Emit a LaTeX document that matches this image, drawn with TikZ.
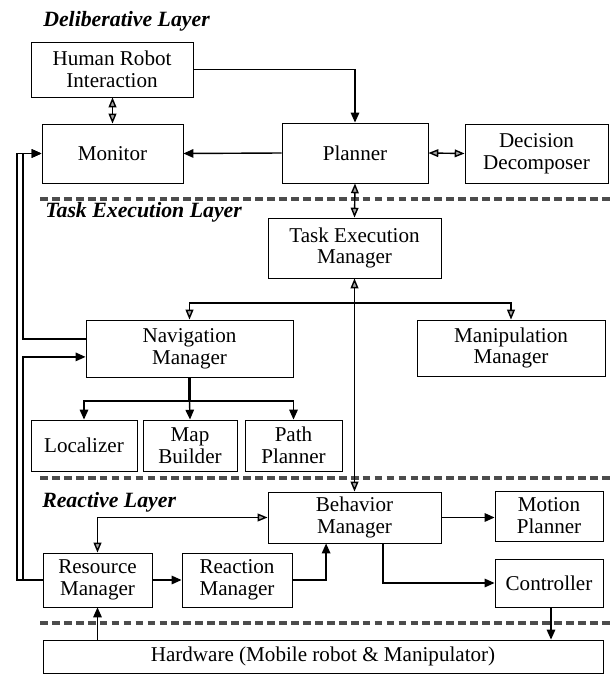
\documentclass[tikz,border=0pt]{standalone}
\usepackage{fontspec}
\setmainfont{Liberation Serif}
\usepackage{tikz}
\usetikzlibrary{arrows.meta, positioning, calc}
\tikzset{box/.style={draw=black, line width=0.6pt, rectangle, align=center, inner sep=1pt},
    arr/.style={draw, line width=1pt, -{Triangle[length=7pt,width=6pt]}},
    hollow/.style={draw, line width=1pt, -{Triangle[length=7pt,width=5.5pt,fill=gray!70]}},
    dbl/.style={draw, line width=1pt, {Triangle[length=7pt,width=5.5pt,fill=gray!70]}-{Triangle[length=7pt,width=5.5pt,fill=gray!70]}},
    layerline/.style={draw=black!70, line width=2.6pt, dash pattern=on 5.5pt off 3pt},
    layer/.style={font=\fontsize{15.5}{16}\selectfont\bfseries\itshape, anchor=west, inner sep=0pt}}

\begin{document}
\begin{tikzpicture}[
    x=0.025cm, y=-0.025cm,
    every node/.style={font=\fontsize{15}{15.5}\selectfont},
    >=Stealth
  ]
  \useasboundingbox (0,0) rectangle (613,675);

  % Layer titles and separators
  \node[layer] (tdel) at (43,21) {Deliberative Layer};
  \node[layer] (ttask) at (45,212) {Task Execution Layer};
  \node[layer] (treac) at (42,502) {Reactive Layer};
  \draw[layerline] (40,199) -- (613,199);
  \draw[layerline] (40,478) -- (613,478);
  \draw[layerline] (40,623) -- (613,623);

  % Deliberative layer
  \node[box, minimum width=4.05cm, minimum height=1.375cm] (hri) at (112,69.5) {Human Robot\\Interaction};
  \node[box, minimum width=3.525cm, minimum height=1.475cm] (mon) at (112.5,153.5) {Monitor};
  \node[box, minimum width=3.65cm, minimum height=1.5cm] (plan) at (355,153) {Planner};
  \node[box, minimum width=3.575cm, minimum height=1.475cm] (dec) at (536.5,153.5) {Decision\\Decomposer};

  % Task execution layer
  \node[box, minimum width=4.325cm, minimum height=1.5cm] (tem) at (354.5,248) {Task Execution\\Manager};
  \node[box, minimum width=5.175cm, minimum height=1.425cm] (nav) at (189.5,348.5) {Navigation\\Manager};
  \node[box, minimum width=4.7cm, minimum height=1.4cm] (man) at (511,348) {Manipulation\\Manager};
  \node[box, minimum width=2.65cm, minimum height=1.275cm] (loc) at (84,445.5) {Localizer};
  \node[box, minimum width=2.35cm, minimum height=1.275cm] (mapb) at (190,445.5) {Map\\Builder};
  \node[box, minimum width=2.425cm, minimum height=1.275cm] (pathp) at (293.5,445.5) {Path\\Planner};

  % Reactive layer
  \node[box, minimum width=4.325cm, minimum height=1.275cm] (beh) at (354.5,517.5) {Behavior\\Manager};
  \node[box, minimum width=2.7cm, minimum height=1.25cm] (mot) at (549,516) {Motion\\Planner};
  \node[box, minimum width=2.7cm, minimum height=1.2cm] (ctrl) at (549,583) {Controller};
  \node[box, minimum width=2.725cm, minimum height=1.35cm] (res) at (97.5,580) {Resource\\Manager};
  \node[box, minimum width=2.75cm, minimum height=1.35cm] (rea) at (237,580) {Reaction\\Manager};
  \node[box, minimum width=14cm, minimum height=0.825cm] (hw) at (323,656.5) {Hardware (Mobile robot \& Manipulator)};

  % helper points
  \coordinate (outer) at (17,0);
  \coordinate (inner) at (23,0);
  \coordinate (split) at (354.5,303);
  \coordinate (navout) at ([yshift=0.24cm]nav.west);
  \coordinate (navin) at ([yshift=-0.21cm]nav.west);
  \coordinate (navfork) at (189.5,401);

  % Deliberative connections
  \draw[dbl] (hri.south -| mon.north) -- (mon.north);
  \draw[arr] (hri.east) -| (plan.north);
  \draw[arr] (plan.west) -- (mon.east);
  \draw[dbl] (plan.east) -- (dec.west);
  \draw[dbl] (plan.south) -- (tem.north);

  % Task execution connections
  \draw[dbl] (tem.south) -- (beh.north);
  \draw[hollow] (split) -| (nav.north);
  \draw[hollow] (split) -| (man.north);
  \draw[line width=1.6pt] (nav.south) -- (navfork);
  \draw[arr] (navfork) -| (loc.north);
  \draw[arr] (navfork) -- (mapb.north);
  \draw[arr] (navfork) -| (pathp.north);

  % Feedback lines on the left
  \draw[arr] (navout) -| (inner |- mon.west) -- (mon.west);
  \draw[arr] (res.west) -| (outer |- mon.west) -- (mon.west);
  \draw[arr] (res.west) -| (inner |- navin) -- (navin);

  % Reactive connections
  \draw[dbl] (beh.west) -| (res.north);
  \draw[arr] (res.east) -- (rea.west);
  \draw[arr] (rea.east) -| ([xshift=-0.71cm]beh.south);
  \draw[arr] (beh.east) -- (beh.east -| mot.west);
  \draw[arr] ([xshift=0.71cm]beh.south) |- (ctrl.west);
  \draw[arr] (res.south |- hw.north) -- (res.south);
  \draw[arr] ([xshift=0.05cm]ctrl.south) -- ([xshift=0.05cm]ctrl.south |- hw.north);
\end{tikzpicture}
\end{document}
